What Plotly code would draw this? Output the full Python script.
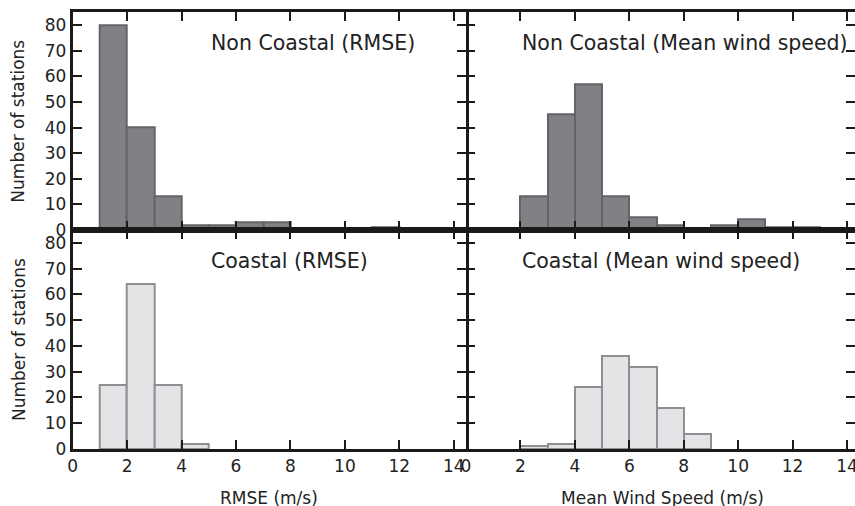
import plotly.graph_objects as go

# Histogram counts (bin width 1)
rmse_bin_starts = [1, 2, 3, 4, 5, 6, 7, 8, 9, 10, 11]
noncoastal_rmse = [80, 40, 13, 2, 2, 3, 3, 0, 0, 0, 1]

wind_bin_starts = [2, 3, 4, 5, 6, 7, 8, 9, 10, 11, 12]
noncoastal_wind = [13, 45, 57, 13, 5, 2, 0, 2, 4, 1, 1]

coastal_rmse_starts = [1, 2, 3, 4]
coastal_rmse = [25, 64, 25, 2]

coastal_wind_starts = [2, 3, 4, 5, 6, 7, 8]
coastal_wind = [1, 2, 24, 36, 32, 16, 6]

x_ticks = [0, 2, 4, 6, 8, 10, 12, 14]
y_ticks = [0, 10, 20, 30, 40, 50, 60, 70, 80]

panel_titles = ["Non Coastal (RMSE)", "Non Coastal (Mean wind speed)",
                "Coastal (RMSE)", "Coastal (Mean wind speed)"]

W, H = 855, 506
FONT = "DejaVu Sans"
INK = "#222222"

# Panel geometry in pixels
left_x0, mid_x, right_x1 = 72.7, 466.0, 855.0
top_y0, mid_y, bot_y1 = 12.3, 230.0, 449.0
px_per_unit = (mid_x - left_x0) / 14.45
left_range = [0, 14.45]
right_range = [0, (right_x1 - mid_x) / px_per_unit]
y_range = [0, 85]

dark_fill, dark_edge = "#808185", "#636467"
light_fill, light_edge = "#e3e4e6", "#8e8f92"

fig = go.Figure()

def add_hist(starts, counts, xa, ya, fill, edge):
    fig.add_trace(go.Bar(
        x=[s + 0.5 for s in starts], y=counts, width=1,
        marker=dict(color=fill, line=dict(color=edge, width=2)),
        xaxis=xa, yaxis=ya, showlegend=False, hoverinfo="x+y",
    ))

add_hist(rmse_bin_starts, noncoastal_rmse, "x", "y", dark_fill, dark_edge)
add_hist(wind_bin_starts, noncoastal_wind, "x2", "y2", dark_fill, dark_edge)
add_hist(coastal_rmse_starts, coastal_rmse, "x3", "y3", light_fill, light_edge)
add_hist(coastal_wind_starts, coastal_wind, "x4", "y4", light_fill, light_edge)

dom_left = [left_x0 / W, mid_x / W]
dom_right = [mid_x / W, 1.0]
dom_top = [1 - mid_y / H, 1 - top_y0 / H]
dom_bot = [1 - bot_y1 / H, 1 - mid_y / H]

tickfont = dict(family=FONT, size=17, color=INK)

def xaxis(domain, rng, anchor, labels):
    return dict(domain=domain, range=rng, anchor=anchor, tickmode="array",
                tickvals=x_ticks, ticks="inside", ticklen=9, tickwidth=2,
                tickcolor="#1a1a1a", showline=True, linewidth=3,
                linecolor="#1a1a1a", mirror="ticks", showgrid=False,
                zeroline=False, showticklabels=labels, tickfont=tickfont,
                ticklabeloverflow="allow", automargin=False, fixedrange=True)

def yaxis(domain, anchor, labels, line):
    return dict(domain=domain, range=y_range, anchor=anchor, tickmode="array",
                tickvals=y_ticks, ticks="inside", ticklen=9, tickwidth=2,
                tickcolor="#1a1a1a", showline=line, linewidth=3,
                linecolor="#1a1a1a", mirror="ticks", showgrid=False,
                zeroline=False, showticklabels=labels, tickfont=tickfont,
                ticklabeloverflow="allow", automargin=False, fixedrange=True)

fig.update_layout(
    width=W, height=H,
    margin=dict(l=0, r=0, t=0, b=0, autoexpand=False),
    paper_bgcolor="white", plot_bgcolor="white",
    font=dict(family=FONT, color=INK),
    bargap=0,
    xaxis=xaxis(dom_left, left_range, "y", False),
    yaxis=yaxis(dom_top, "x", True, True),
    xaxis2=xaxis(dom_right, right_range, "y2", False),
    yaxis2=yaxis(dom_top, "x2", False, False),
    xaxis3=xaxis(dom_left, left_range, "y3", True),
    yaxis3=yaxis(dom_bot, "x3", True, True),
    xaxis4=xaxis(dom_right, right_range, "y4", True),
    yaxis4=yaxis(dom_bot, "x4", False, False),
)

# Panel titles
title_pos = [("x", "y", 5.0), ("x2", "y2", 2.0), ("x3", "y3", 5.0), ("x4", "y4", 2.0)]
for (xr, yr, xv), txt in zip(title_pos, panel_titles):
    fig.add_annotation(x=xv, y=73, xref=xr, yref=yr, text=txt, showarrow=False,
                       xanchor="left", yanchor="middle",
                       font=dict(family=FONT, size=20.5, color=INK))

# Axis titles
label_font = dict(family=FONT, size=17, color=INK)
fig.add_annotation(x=14.45 / 2, xref="x3", y=1 - 497.7 / H, yref="paper",
                   text="RMSE (m/s)", showarrow=False, xanchor="center",
                   yanchor="middle", font=label_font)
fig.add_annotation(x=14.45 / 2, xref="x4", y=1 - 497.7 / H, yref="paper",
                   text="Mean Wind Speed (m/s)", showarrow=False,
                   xanchor="center", yanchor="middle", font=label_font)
for ya in ("y", "y3"):
    fig.add_annotation(x=18.5 / W, xref="paper", y=42.5, yref=ya,
                       text="Number of stations", textangle=-90,
                       showarrow=False, xanchor="center", yanchor="middle",
                       font=label_font)

fig.write_html("out.html")
